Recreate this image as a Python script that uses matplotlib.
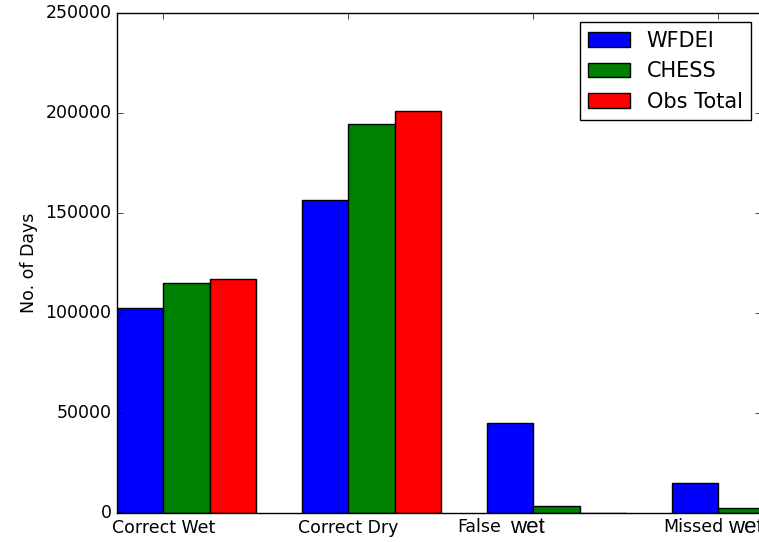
import numpy as np
import matplotlib
matplotlib.use('Agg')
import matplotlib.pyplot as plt

categories = ['Correct Wet', 'Correct Dry', 'False', 'Missed']
wfdei = [102500, 156500, 45000, 15000]
chess = [115000, 194500, 3500, 2500]
obs_total = [117000, 201000, 0, 0]

plt.style.use('classic')

ind = np.arange(len(categories))
width = 0.25

fig = plt.figure(figsize=(7.59, 5.42), dpi=100, facecolor='w')
ax = fig.add_axes([117 / 759, 29 / 542, 643.5 / 759, 500 / 542])

r1 = ax.bar(ind, wfdei, width, color='b', align='edge', edgecolor='k', linewidth=1)
r2 = ax.bar(ind + width, chess, width, color='g', align='edge', edgecolor='k', linewidth=1)
r3 = ax.bar(ind + 2 * width, obs_total, width, color='r', align='edge', edgecolor='k', linewidth=1)

ax.set_xlim(0, 3.478)
ax.set_ylim(0, 250000)
ax.set_ylabel('No. of Days', fontsize=12.5)
ax.set_xticks(ind + width)
ax.set_xticklabels(['Correct Wet', 'Correct Dry', '', ''], fontsize=12.5)
ax.tick_params(labelsize=12.5)

# last two labels, the second word set in a different face
trans = ax.get_xaxis_transform()
ax.text(1.84, -0.01, 'False', transform=trans, ha='left', va='top', fontsize=12.5)
ax.text(2.124, -0.008, 'wet', transform=trans, ha='left', va='top', fontsize=16,
        family='Liberation Sans')
ax.text(2.952, -0.01, 'Missed', transform=trans, ha='left', va='top', fontsize=12.5)
ax.text(3.303, -0.008, 'wet', transform=trans, ha='left', va='top', fontsize=16,
        family='Liberation Sans')

ax.legend((r1[0], r2[0], r3[0]), ('WFDEI', 'CHESS', 'Obs Total'), loc='upper right',
          fontsize=15, borderaxespad=0.45)

fig.savefig('out.png', dpi=100, facecolor='w')
